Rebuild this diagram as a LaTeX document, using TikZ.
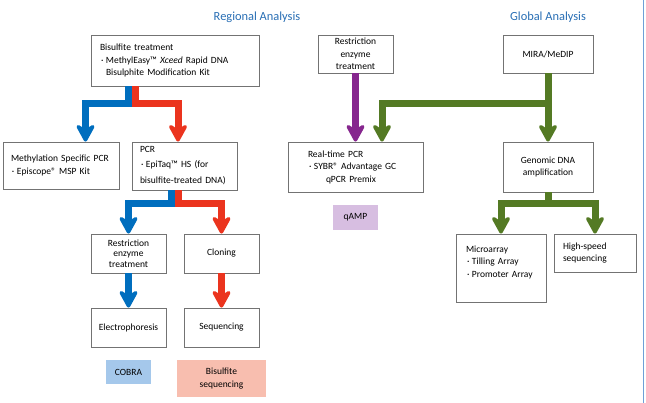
\documentclass[tikz,border=0pt]{standalone}
\usepackage{fontspec}
\setmainfont{Carlito}
\usetikzlibrary{arrows.meta}

\definecolor{titleblue}{RGB}{40,110,180}
\definecolor{flowblue}{RGB}{0,110,190}
\definecolor{flowred}{RGB}{235,52,30}
\definecolor{flowgreen}{RGB}{84,122,36}
\definecolor{flowpurple}{RGB}{134,38,142}
\definecolor{cobrafill}{RGB}{165,200,235}
\definecolor{bseqfill}{RGB}{248,190,175}
\definecolor{qampfill}{RGB}{215,190,225}
\definecolor{edgeblue}{RGB}{110,160,215}

% bullet as printed in the boxes
\newcommand{\bul}{\makebox[6pt][l]{\hspace{1pt}\textperiodcentered}}

\begin{document}
\begin{tikzpicture}[x=1pt,y=-1pt,
  box/.style={draw=black!55,line width=0.8pt,inner sep=2pt,font=\fontsize{9.5}{12.5}\selectfont},
  cbox/.style={box,align=center},
  tag/.style={inner sep=2pt,align=center,font=\fontsize{9.5}{12.5}\selectfont},
  title/.style={text=titleblue,font=\fontsize{12.4}{14}\selectfont},
  flow/.style={line width=7pt,-{Stealth[length=22pt,width=24pt,inset=8pt,round]}}]
  \useasboundingbox (0,0) rectangle (646,403);
  % frame line on the right
  \draw[edgeblue,line width=1pt] (643,0) -- (643,403);

  % titles
  \node[title] (regional) at (257,17) {Regional Analysis};
  \node[title] (global) at (548,17) {Global Analysis};

  % regional analysis
  \node[box,align=left,text width=150pt,inner xsep=9pt,minimum height=51pt] (bis) at (175,60.5)
    {Bisulfite treatment\\\bul MethylEasy™ \textit{Xceed} Rapid DNA\\\hspace*{6pt}Bisulphite Modification Kit};
  \node[box,align=left,text width=100pt,inner xsep=8pt,minimum height=47pt] (msp) at (61,165.5)
    {Methylation Specific PCR\\\bul Episcope® MSP Kit};
  \node[box,align=left,text width=89pt,inner xsep=8pt,minimum height=48pt] (pcr) at (184.5,166)
    {PCR\\[2pt]\bul EpiTaq™ HS (for\\[4pt]bisulfite-treated DNA)};
  \node[cbox,minimum width=75pt,minimum height=39pt,font=\fontsize{9.5}{10.5}\selectfont] (renz) at (128.5,253.5)
    {Restriction\\enzyme\\treatment};
  \node[cbox,minimum width=75pt,minimum height=39pt] (clon) at (221.5,253.5) {Cloning};
  \node[cbox,minimum width=75pt,minimum height=39pt] (elec) at (128.5,327.5) {Electrophoresis};
  \node[cbox,minimum width=75pt,minimum height=39pt] (seq) at (221.5,327.5) {Sequencing};
  \node[tag,fill=cobrafill,minimum width=45pt,minimum height=24pt] (cobra) at (128.5,372) {COBRA};
  \node[tag,fill=bseqfill,minimum width=89pt,minimum height=37pt] (bseq) at (221.5,378.5)
    {Bisulfite\\sequencing};

  % global analysis
  \node[cbox,minimum width=75pt,minimum height=38pt] (renzr) at (355.5,54)
    {Restriction\\enzyme\\treatment};
  \node[cbox,minimum width=90pt,minimum height=38pt] (mira) at (548,54) {MIRA/MeDIP};
  \node[box,align=left,text width=95pt,inner xsep=20pt,minimum height=50pt] (rtpcr) at (355.5,167)
    {Real-time PCR\\\bul SYBR® Advantage GC\\\hspace*{18pt}qPCR Premix};
  \node[cbox,minimum width=90pt,minimum height=50pt] (gdna) at (548,167)
    {Genomic DNA\\amplification};
  \node[tag,fill=qampfill,minimum width=45pt,minimum height=25pt] (qamp) at (355.5,217.5) {qAMP};
  \node[box,align=left,text width=70pt,inner xsep=10pt,minimum height=68pt,text depth=38pt] (micro) at (501,268)
    {Microarray\\\bul Tilling Array\\\bul Promoter Array};
  \node[box,align=left,text width=64pt,inner xsep=9pt,minimum height=38pt] (hss) at (595,253)
    {High-speed\\sequencing};

  % blue and red flows
  \draw[flow,flowblue] ([xshift=-46.5pt]bis.south) -- ++(0,17.5) -| ([xshift=24.5pt]msp.north);
  \draw[flow,flowred] ([xshift=-39.5pt]bis.south) -- ++(0,17.5) -| ([xshift=-6.5pt]pcr.north);
  \draw[flow,flowblue] ([xshift=-13.5pt]pcr.south) -- ++(0,13.5) -| (renz.north);
  \draw[flow,flowred] ([xshift=-6.5pt]pcr.south) -- ++(0,13.5) -| (clon.north);
  \draw[flow,flowblue] (renz) -- (elec);
  \draw[flow,flowred] (clon) -- (seq);

  % purple and green flows
  \draw[flow,flowpurple] (renzr) -- (rtpcr);
  \draw[flow,flowgreen] (mira.south) -- ++(0,30.5) -| ([xshift=26.5pt]rtpcr.north);
  \draw[flow,flowgreen] (mira) -- (gdna);
  \draw[flow,flowgreen] (gdna.south) -- ++(0,11.5) -| (micro.north);
  \draw[flow,flowgreen] (gdna.south) -- ++(0,11.5) -| (hss.north);
\end{tikzpicture}
\end{document}
